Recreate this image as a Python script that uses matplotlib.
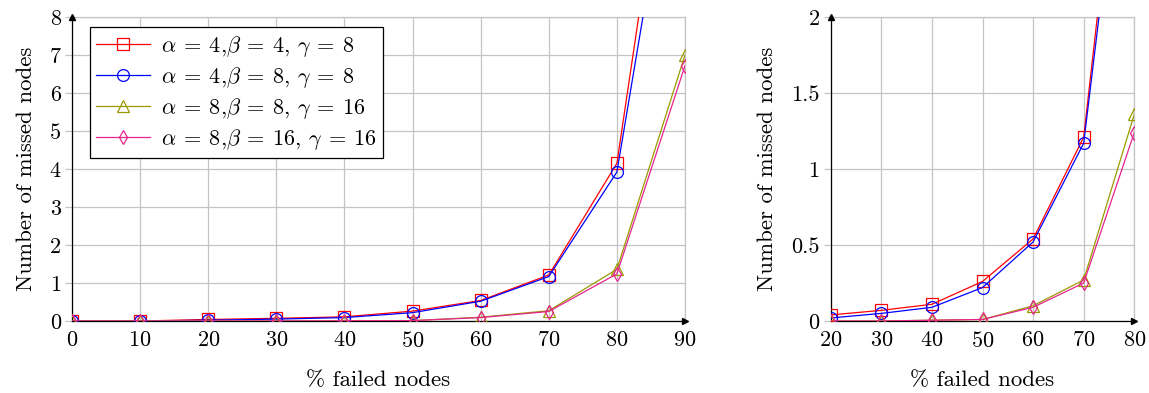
import numpy as np
import matplotlib
matplotlib.use("Agg")
import matplotlib.pyplot as plt

plt.rcParams['font.family'] = ['cmr10', 'DejaVu Serif']
plt.rcParams['mathtext.fontset'] = 'cm'
plt.rcParams['axes.formatter.use_mathtext'] = True

# datos
failed = [0, 10, 20, 30, 40, 50, 60, 70, 80, 90]
red_sq = [0.0, 0.0, 0.04, 0.07, 0.11, 0.26, 0.54, 1.21, 4.15, 16.2]
blue_ci = [0.0, 0.0, 0.02, 0.05, 0.09, 0.22, 0.52, 1.17, 3.92, 14.6]
olive_tr = [0.0, 0.0, 0.0, 0.0, 0.005, 0.01, 0.10, 0.27, 1.36, 7.0]
pink_di = [0.0, 0.0, 0.0, 0.0, 0.005, 0.01, 0.09, 0.25, 1.24, 6.72]
labels = [r'$\alpha\:=\:4$,$\beta\:=\:4$, $\gamma\:=\:8$',
          r'$\alpha\:=\:4$,$\beta\:=\:8$, $\gamma\:=\:8$',
          r'$\alpha\:=\:8$,$\beta\:=\:8$, $\gamma\:=\:16$',
          r'$\alpha\:=\:8$,$\beta\:=\:16$, $\gamma\:=\:16$']

series = [red_sq, blue_ci, olive_tr, pink_di]
colors = ['#ff0000', '#0000ff', '#9a9a00', '#e6248c']
markers = ['s', 'o', '^', 'd']

fig = plt.figure(figsize=(11.49, 3.93), dpi=100)
ax1 = fig.add_axes([72/1149, 1-321/393, (685-72)/1149, (321-17)/393])
ax2 = fig.add_axes([830.7/1149, 1-321/393, (1134.3-830.7)/1149, (321-17)/393])

GRIS = '#c4c4c4'

def estilo(ax, xlim, ylim, xticks, yticks, yticklabels):
    ax.set_xlim(*xlim)
    ax.set_ylim(*ylim)
    ax.set_xticks(xticks)
    ax.set_yticks(yticks)
    ax.set_yticklabels(yticklabels)
    ax.grid(True, color=GRIS, linewidth=0.9, zorder=0)
    ax.set_axisbelow(True)
    for s in ['top', 'right']:
        ax.spines[s].set_visible(False)
    for s in ['left', 'bottom']:
        ax.spines[s].set_color('black')
        ax.spines[s].set_linewidth(0.9)
    ax.tick_params(axis='x', length=0, pad=7, labelsize=16)
    ax.tick_params(axis='y', length=5, color=GRIS, width=0.9, pad=3, labelsize=16)
    # cerrar la grilla arriba y a la derecha
    ax.axhline(ylim[1], color=GRIS, linewidth=0.9, zorder=0, clip_on=False)
    ax.axvline(xlim[1], color=GRIS, linewidth=0.9, zorder=0, clip_on=False)
    # flechas de los ejes
    ax.plot(1, 0, marker='>', color='black', markersize=5,
            transform=ax.transAxes, clip_on=False, zorder=5)
    ax.plot(0, 1, marker='^', color='black', markersize=5,
            transform=ax.transAxes, clip_on=False, zorder=5)
    ax.set_xlabel('% failed nodes', fontsize=16.5, labelpad=14)
    ax.set_ylabel('Number of missed nodes', fontsize=16.5, labelpad=10)

for ax in [ax1, ax2]:
    for ys, c, m, lab in zip(series, colors, markers, labels):
        ax.plot(failed, ys, color=c, marker=m, markersize=8.5 if m != 'd' else 7,
                markerfacecolor='none', markeredgewidth=0.9, linewidth=0.9,
                label=lab, zorder=3)

estilo(ax1, (0, 90), (0, 8), range(0, 91, 10), range(0, 9), [str(v) for v in range(0, 9)])
estilo(ax2, (20, 80), (0, 2), range(20, 81, 10), [0, 0.5, 1, 1.5, 2], ['0', '0.5', '1', '1.5', '2'])

leg = ax1.legend(loc='upper left', bbox_to_anchor=(0.029, 0.967), borderaxespad=0,
                 fontsize=16, frameon=True, fancybox=False, edgecolor='black',
                 framealpha=1, handlelength=2.4, borderpad=0.3, labelspacing=0.27,
                 handletextpad=0.5)
leg.get_frame().set_linewidth(0.9)

fig.savefig('out.png', dpi=100)
